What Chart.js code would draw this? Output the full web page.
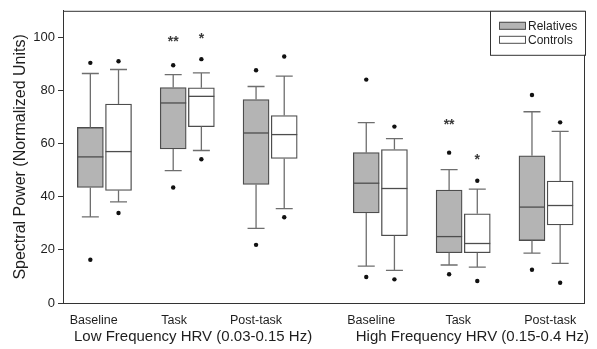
<!DOCTYPE html>
<html>
<head>
<meta charset="utf-8">
<script src="https://cdn.jsdelivr.net/npm/chart.js@4/dist/chart.umd.min.js"></script>
<style>
html,body{margin:0;padding:0;background:#fff;}
canvas{display:block;}
</style>
</head>
<body>
<canvas id="c" width="597" height="349"></canvas>
<script>
// ---- data ----
const groupLabels = ['Low Frequency HRV (0.03-0.15 Hz)', 'High Frequency HRV (0.15-0.4 Hz)'];
const groupLabelPos = [1.07, 4.44];
const phases = ['Baseline', 'Task', 'Post-task', 'Baseline', 'Task', 'Post-task'];
const phasePos = [0, 1, 2, 3.33, 4.33, 5.33];
const phaseTickPos = [-0.13, 0.84, 1.83, 3.22, 4.27, 5.38];
const yTicks = [0, 20, 40, 60, 80, 100];

const relLowWhisker = [32.4, 49.8, 28.1, 13.9, 14.3, 18.8];
const relQ1         = [43.5, 58.0, 44.6, 33.9, 18.9, 23.5];
const relMedian     = [55.0, 75.3, 64.0, 45.1, 25.0, 36.1];
const relQ3         = [66.1, 81.1, 76.6, 56.6, 42.5, 55.4];
const relHighWhisker= [86.4, 86.0, 81.5, 67.9, 50.2, 72.0];
const relOutLow     = [16.3, 43.5, 21.9, 9.8, 10.8, 12.5];
const relOutHigh    = [90.4, 89.5, 87.6, 84.1, 56.6, 78.3];
const relSig        = ['', '**', '', '', '**', ''];
const relSigY       = [null, 99.8, null, null, 68.5, null];

const ctlLowWhisker = [38.1, 57.4, 35.5, 12.3, 13.5, 14.9];
const ctlQ1         = [42.4, 66.4, 54.4, 25.3, 18.9, 29.4];
const ctlMedian     = [57.0, 77.8, 63.4, 43.1, 22.4, 36.7];
const ctlQ3         = [74.9, 81.0, 70.6, 57.8, 33.6, 45.9];
const ctlHighWhisker= [87.9, 86.6, 85.4, 61.9, 42.9, 64.6];
const ctlOutLow     = [33.9, 54.1, 32.3, 8.9, 8.3, 7.6];
const ctlOutHigh    = [91.0, 91.8, 92.8, 66.4, 46.0, 68.0];
const ctlSig        = ['', '*', '', '', '*', ''];
const ctlSigY       = [null, 101.0, null, null, 55.3, null];

const seriesNames = ['Relatives', 'Controls'];

// ---- styles ----
const FONT = '"Liberation Sans", Arial, Helvetica, sans-serif';
const BOX_OFFSET = 0.17;
const BOX_W = 26;
const CAP_HALF = 8.5;
const relFill = '#b4b4b4';
const ctlFill = '#ffffff';
const boxEdge = '#4d4d4d';
const whiskerCol = '#6e6e6e';
const textCol = '#1e1e1e';

const series = [
  {name: seriesNames[0], off: -BOX_OFFSET, lo: relLowWhisker, q1: relQ1, med: relMedian, q3: relQ3, hi: relHighWhisker, sig: relSig, sigY: relSigY, fill: relFill},
  {name: seriesNames[1], off: BOX_OFFSET, lo: ctlLowWhisker, q1: ctlQ1, med: ctlMedian, q3: ctlQ3, hi: ctlHighWhisker, sig: ctlSig, sigY: ctlSigY, fill: ctlFill}
];

function boxData(s) {
  return phasePos.map((p, i) => ({x: p + s.off, y: [s.q1[i], s.q3[i]]}));
}
function outlierData(off, lows, highs) {
  const pts = [];
  phasePos.forEach((p, i) => {
    pts.push({x: p + off, y: lows[i]});
    pts.push({x: p + off, y: highs[i]});
  });
  return pts;
}

const boxPlugin = {
  id: 'boxextras',
  afterDatasetsDraw(chart) {
    const {ctx, scales: {x, y}} = chart;
    ctx.save();
    series.forEach(s => {
      phasePos.forEach((p, i) => {
        const cx = x.getPixelForValue(p + s.off);
        const yq1 = y.getPixelForValue(s.q1[i]);
        const yq3 = y.getPixelForValue(s.q3[i]);
        const ylo = y.getPixelForValue(s.lo[i]);
        const yhi = y.getPixelForValue(s.hi[i]);
        const ymed = y.getPixelForValue(s.med[i]);
        ctx.strokeStyle = whiskerCol;
        ctx.lineWidth = 1.3;
        ctx.beginPath();
        ctx.moveTo(cx, yq3); ctx.lineTo(cx, yhi);
        ctx.moveTo(cx - CAP_HALF, yhi); ctx.lineTo(cx + CAP_HALF, yhi);
        ctx.moveTo(cx, yq1); ctx.lineTo(cx, ylo);
        ctx.moveTo(cx - CAP_HALF, ylo); ctx.lineTo(cx + CAP_HALF, ylo);
        ctx.stroke();
        ctx.strokeStyle = boxEdge;
        ctx.lineWidth = 1.3;
        ctx.beginPath();
        ctx.moveTo(cx - BOX_W / 2, ymed); ctx.lineTo(cx + BOX_W / 2, ymed);
        ctx.stroke();
        if (s.sig[i]) {
          const fs = 14;
          ctx.font = 'bold ' + fs + 'px ' + FONT;
          ctx.fillStyle = '#3a3a3a';
          ctx.textAlign = 'center';
          ctx.textBaseline = 'alphabetic';
          ctx.fillText(s.sig[i], cx, y.getPixelForValue(s.sigY[i]) + 0.57 * fs);
        }
      });
    });
    ctx.restore();
  },
  afterDraw(chart) {
    const {ctx, chartArea: a, scales: {x}} = chart;
    ctx.save();
    // frame
    ctx.strokeStyle = '#333';
    ctx.lineWidth = 1;
    ctx.strokeRect(a.left + 0.5, a.top + 0.5, a.right - a.left - 1, a.bottom - a.top);
    // group labels
    ctx.fillStyle = textCol;
    ctx.font = '15px ' + FONT;
    ctx.textAlign = 'center';
    ctx.textBaseline = 'middle';
    groupLabels.forEach((g, i) => ctx.fillText(g, x.getPixelForValue(groupLabelPos[i]), 337));
    // legend
    const lw = 95, lh = 44;
    const lx = a.right - lw, ly = a.top;
    ctx.fillStyle = '#fff';
    ctx.fillRect(lx, ly, lw, lh);
    ctx.strokeStyle = '#333';
    ctx.strokeRect(lx + 0.5, ly + 0.5, lw, lh);
    ctx.font = '12px ' + FONT;
    ctx.textAlign = 'left';
    series.forEach((s, k) => {
      const sy = ly + 11 + k * 14;
      ctx.fillStyle = s.fill;
      ctx.fillRect(lx + 9, sy, 26, 8);
      ctx.strokeStyle = boxEdge;
      ctx.strokeRect(lx + 9.5, sy + 0.5, 26, 7);
      ctx.fillStyle = textCol;
      ctx.fillText(s.name, lx + 38, sy + 4.5);
    });
    ctx.restore();
  }
};

new Chart(document.getElementById('c'), {
  type: 'bar',
  data: {
    datasets: [
      {label: seriesNames[0], data: boxData(series[0]), backgroundColor: relFill, borderColor: boxEdge, borderWidth: 1.3, borderSkipped: false, barThickness: BOX_W, grouped: false},
      {label: seriesNames[1], data: boxData(series[1]), backgroundColor: ctlFill, borderColor: boxEdge, borderWidth: 1.3, borderSkipped: false, barThickness: BOX_W, grouped: false},
      {type: 'scatter', label: 'Relatives outliers', data: outlierData(-BOX_OFFSET, relOutLow, relOutHigh), pointRadius: 2.2, backgroundColor: '#111', borderWidth: 0},
      {type: 'scatter', label: 'Controls outliers', data: outlierData(BOX_OFFSET, ctlOutLow, ctlOutHigh), pointRadius: 2.2, backgroundColor: '#111', borderWidth: 0}
    ]
  },
  options: {
    responsive: false,
    animation: false,
    devicePixelRatio: 1,
    layout: {padding: {top: 8, right: 12, left: 0, bottom: 0}},
    plugins: {legend: {display: false}, tooltip: {enabled: false}},
    scales: {
      x: {
        type: 'linear', min: -0.5, max: 5.8, offset: false,
        grid: {display: false, offset: false},
        border: {display: false},
        afterBuildTicks: s => { s.ticks = phaseTickPos.map(v => ({value: v})); },
        afterFit: s => { s.height = 46; },
        ticks: {
          autoSkip: false, maxRotation: 0, padding: 2,
          color: textCol, font: {family: FONT, size: 12.5},
          callback: (v, i) => phases[i]
        }
      },
      y: {
        min: 0, max: 110,
        afterBuildTicks: s => { s.ticks = yTicks.map(v => ({value: v})); },
        afterFit: s => { s.width = 63; },
        grid: {drawOnChartArea: false, drawTicks: true, tickLength: 5, color: '#333'},
        border: {display: true, color: '#333', width: 1},
        ticks: {padding: 3, color: textCol, font: {family: FONT, size: 13}},
        title: {display: true, text: 'Spectral Power (Normalized Units)', color: textCol, font: {family: FONT, size: 16}, padding: {top: 11, bottom: 0}}
      }
    }
  },
  plugins: [boxPlugin]
});
</script>
</body>
</html>
